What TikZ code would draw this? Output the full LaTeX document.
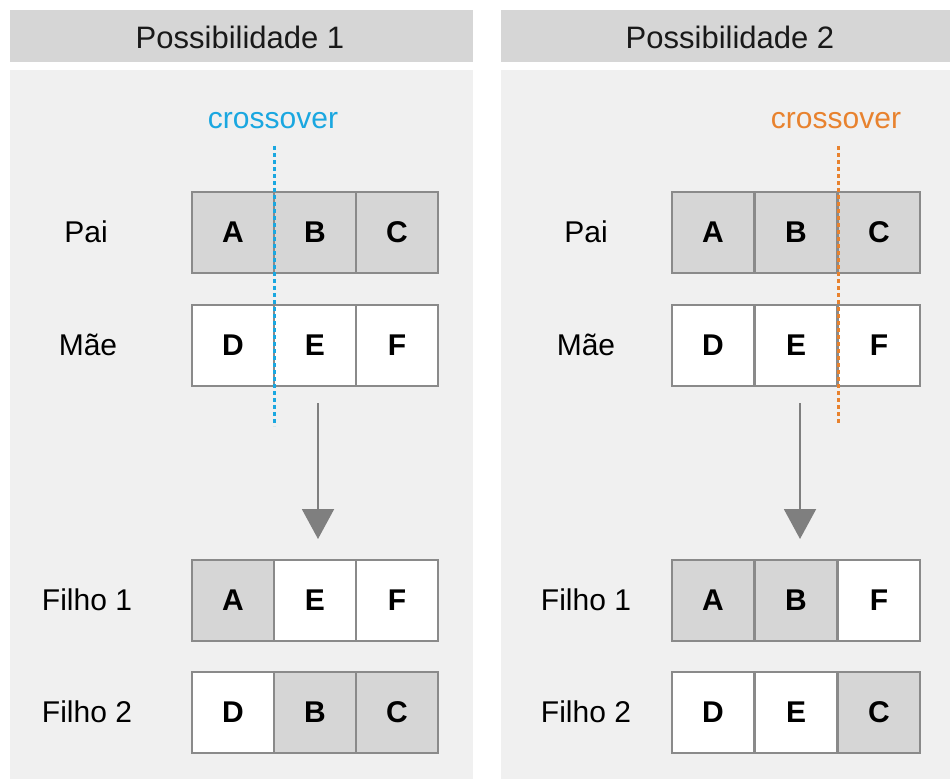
\documentclass[tikz,border=0pt]{standalone}
\usepackage{fontspec}
\setmainfont{Liberation Sans}
\usetikzlibrary{arrows.meta}
\definecolor{hdrgray}{HTML}{D6D6D6}
\definecolor{panelgray}{HTML}{F0F0F0}
\definecolor{cellgray}{HTML}{D6D6D6}
\definecolor{bordergray}{HTML}{8A8A8A}
\definecolor{xblue}{HTML}{1AA7E0}
\definecolor{xorange}{HTML}{E8822E}
\definecolor{arrowgray}{HTML}{7F7F7F}
\tikzset{
  cell/.style={draw=bordergray, line width=2pt, minimum width=82pt, minimum height=81pt, inner sep=0pt, font=\fontsize{30}{31}\selectfont\bfseries},
  gcell/.style={cell, fill=cellgray},
  wcell/.style={cell, fill=white},
  rowlabel/.style={font=\fontsize{30}{31}\selectfont, text=black, inner sep=0pt},
  hdrtext/.style={font=\fontsize{31}{33}\selectfont, text=black!90, inner sep=0pt},
  xlabel/.style={font=\fontsize{30}{31}\selectfont, inner sep=0pt},
  xline/.style={line width=3pt, dash pattern=on 4pt off 3pt},
  downarrow/.style={draw=arrowgray, line width=2pt, -{Triangle[length=30pt,width=32pt]}, color=arrowgray}
}
\begin{document}
\begin{tikzpicture}[x=1pt,y=-1pt]
\useasboundingbox (0,0) rectangle (950,781);
\fill[white] (0,0) rectangle (950,781);
% headers and panels
\fill[hdrgray] (10,10) rectangle (473,62);
\fill[hdrgray] (501,10) rectangle (950,62);
\fill[panelgray] (10,70) rectangle (473,779);
\fill[panelgray] (501,70) rectangle (950,779);
\node[hdrtext] (h1) at (240,37) {Possibilidade 1};
\node[hdrtext] (h2) at (730,37) {Possibilidade 2};

% ---------- Possibilidade 1 ----------
\node[rowlabel] (l1pai) at (86,232) {Pai};
\node[rowlabel] (l1mae) at (88,345) {Mãe};
\node[rowlabel] (l1f1) at (87,600) {Filho 1};
\node[rowlabel] (l1f2) at (87,712) {Filho 2};

\node[gcell] (p1a) at (233,232.5) {A};
\node[gcell] (p1b) at (315,232.5) {B};
\node[gcell] (p1c) at (397,232.5) {C};
\node[wcell] (m1d) at (233,345.5) {D};
\node[wcell] (m1e) at (315,345.5) {E};
\node[wcell] (m1f) at (397,345.5) {F};
\node[gcell] (f11a) at (233,600) {A};
\node[wcell] (f11e) at (315,600) {E};
\node[wcell] (f11f) at (397,600) {F};
\node[wcell] (f12d) at (233,712.5) {D};
\node[gcell] (f12b) at (315,712.5) {B};
\node[gcell] (f12c) at (397,712.5) {C};

\node[xlabel, text=xblue] (x1) at (273,121) {crossover};
\coordinate (x1top) at (274,146);
\coordinate (x1bot) at (274,426);
\draw[xline, draw=xblue] (x1top) -- (x1bot);

\coordinate (a1s) at (318,403);
\coordinate (a1e) at (318,539);
\draw[downarrow] (a1s) -- (a1e);

% ---------- Possibilidade 2 ----------
\node[rowlabel] (l2pai) at (586,232) {Pai};
\node[rowlabel] (l2mae) at (586,345) {Mãe};
\node[rowlabel] (l2f1) at (586,600) {Filho 1};
\node[rowlabel] (l2f2) at (586,712) {Filho 2};

\node[gcell] (p2a) at (713,232.5) {A};
\node[gcell] (p2b) at (796,232.5) {B};
\node[gcell] (p2c) at (879,232.5) {C};
\node[wcell] (m2d) at (713,345.5) {D};
\node[wcell] (m2e) at (796,345.5) {E};
\node[wcell] (m2f) at (879,345.5) {F};
\node[gcell] (f21a) at (713,600) {A};
\node[gcell] (f21b) at (796,600) {B};
\node[wcell] (f21f) at (879,600) {F};
\node[wcell] (f22d) at (713,712.5) {D};
\node[wcell] (f22e) at (796,712.5) {E};
\node[gcell] (f22c) at (879,712.5) {C};

\node[xlabel, text=xorange] (x2) at (836,121) {crossover};
\coordinate (x2top) at (838,146);
\coordinate (x2bot) at (838,424);
\draw[xline, draw=xorange] (x2top) -- (x2bot);

\coordinate (a2s) at (800,403);
\coordinate (a2e) at (800,539);
\draw[downarrow] (a2s) -- (a2e);
\end{tikzpicture}
\end{document}
